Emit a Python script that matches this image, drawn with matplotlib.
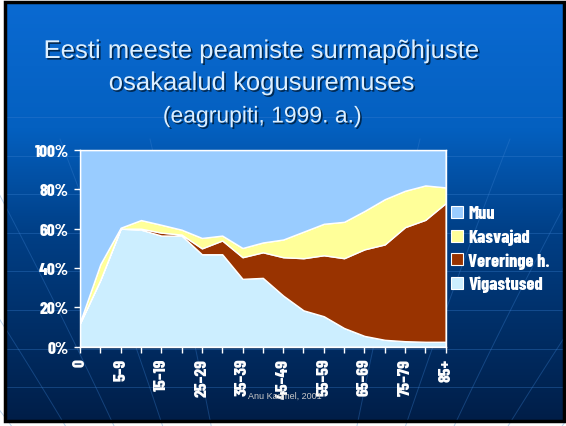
import numpy as np
import matplotlib
matplotlib.use("Agg")
import matplotlib.pyplot as plt
from matplotlib.patches import Patch, Rectangle
from matplotlib.colors import LinearSegmentedColormap
import matplotlib.patheffects as pe

# age groups (every second one is labelled)
ages = ["0", "1–4", "5–9", "10–14", "15–19", "20–24", "25–29", "30–34", "35–39",
        "40–44", "45–49", "50–54", "55–59", "60–64", "65–69", "70–74", "75–79",
        "80–84", "85+"]

# shares of deaths, %
vigastused = [12, 34, 60, 59.5, 56.5, 56.5, 47, 47, 34.5, 35, 26, 18.5, 15.5,
              9.5, 5.5, 3.5, 2.8, 2.5, 2.5]
vereringe = [0, 0, 0, 0.5, 1.5, 0.5, 3, 7, 11, 13, 19.5, 26.5, 31, 35.5, 44,
             48.5, 58, 62, 70.5]
kasvajad = [0.5, 8, 0.5, 4.4, 4, 2.5, 5.3, 2.5, 4.7, 5, 9, 13.5, 16, 18.5,
            19.5, 23, 18.5, 17.5, 8]
muu = [100 - a - b - c for a, b, c in zip(vigastused, vereringe, kasvajad)]

series_names = ["Muu", "Kasvajad", "Vereringe h.", "Vigastused"]
colors = {"Muu": "#99ccff", "Kasvajad": "#ffff99",
          "Vereringe h.": "#993300", "Vigastused": "#cceeff"}

W, H = 566, 427
fig = plt.figure(figsize=(W / 100, H / 100), dpi=100, facecolor="white")

# slide background
bg = fig.add_axes([0, 0, 1, 1])
bg.set_xlim(0, W)
bg.set_ylim(H, 0)
bg.axis("off")
cmap = LinearSegmentedColormap.from_list(
    "slide", [(0, "#0a6ad2"), (0.3, "#0460c0"), (0.55, "#003f86"), (1, "#001e48")])
grad = np.linspace(0, 1, 256).reshape(-1, 1)
bg.imshow(grad, cmap=cmap, aspect="auto", extent=(5, 564, 422, 3), zorder=0)

# faint decoration lines
for yy in np.arange(118, 420, 38.6):
    bg.plot([5, 564], [yy, yy], color="#3a80d0", lw=0.7, alpha=0.35, zorder=1)
t = np.linspace(0, 1, 60)
for xt in [-220, -120, -30, 60, 150, 420, 510, 600, 700, 800]:
    xs = 283 + (xt - 283) * (1 - t) ** 1.3
    ys = 140 + (900 - 140) * t
    bg.plot(xs, ys, color="#3a80d0", lw=0.7, alpha=0.35, zorder=1)
bg.add_patch(Rectangle((5, 3), 559, 419, fill=False, ec="black", lw=2.5, zorder=3))

# title
tx = 262 / W
shadow = [pe.withSimplePatchShadow(offset=(1.2, -1.2), shadow_rgbFace="#002244", alpha=0.9)]
fig.text(tx, 1 - 52 / H, "Eesti meeste peamiste surmapõhjuste", ha="center", va="center",
         color="#dcefff", fontsize=18.5, family="Liberation Sans", path_effects=shadow)
fig.text(tx, 1 - 84 / H, "osakaalud kogusuremuses", ha="center", va="center",
         color="#dcefff", fontsize=18.5, family="Liberation Sans", path_effects=shadow)
fig.text(tx, 1 - 117 / H, "(eagrupiti, 1999. a.)", ha="center", va="center",
         color="#dcefff", fontsize=16.5, family="Liberation Sans", path_effects=shadow)

narrow = ["Barlow Condensed", "DejaVu Sans"]

# chart
ax = fig.add_axes([80 / W, 1 - 347.7 / H, 365.7 / W, 196.7 / H])
x = np.arange(len(ages))
ax.stackplot(x, vigastused, vereringe, kasvajad, muu,
             colors=[colors["Vigastused"], colors["Vereringe h."],
                     colors["Kasvajad"], colors["Muu"]],
             edgecolor="white", linewidth=1.0)
ax.set_xlim(0, len(ages) - 1)
ax.set_ylim(0, 100)
ax.set_xticks(x)
ax.set_xticklabels([a if i % 2 == 0 else "" for i, a in enumerate(ages)],
                   rotation=90, fontsize=12.5, fontweight=800, family=narrow, color="white")
ax.set_yticks(range(0, 101, 20))
ax.set_yticklabels([f"{v}%" for v in range(0, 101, 20)],
                   fontsize=12.5, fontweight=800, family=narrow, color="white")
ax.tick_params(colors="white", length=4, width=1, pad=4)
for s in ax.spines.values():
    s.set_color("white")
    s.set_linewidth(1)

handles = [Patch(facecolor=colors[n], edgecolor="white", lw=0.8) for n in series_names]
leg = fig.legend(handles, series_names, loc="upper left",
                 bbox_to_anchor=(444 / W, 1 - 199 / H), frameon=False,
                 handlelength=0.65, handleheight=0.65, handletextpad=0.3,
                 labelspacing=0.4, borderaxespad=0,
                 prop={"family": narrow, "weight": 800, "size": 13})
for txt in leg.get_texts():
    txt.set_color("white")

fig.text(285 / W, 1 - 396 / H, "Anu Kasmel, 2001", ha="center", va="center",
         color="#c8c8c8", fontsize=6.5, family="Liberation Sans")

fig.savefig("out.png", dpi=100, facecolor=fig.get_facecolor())
